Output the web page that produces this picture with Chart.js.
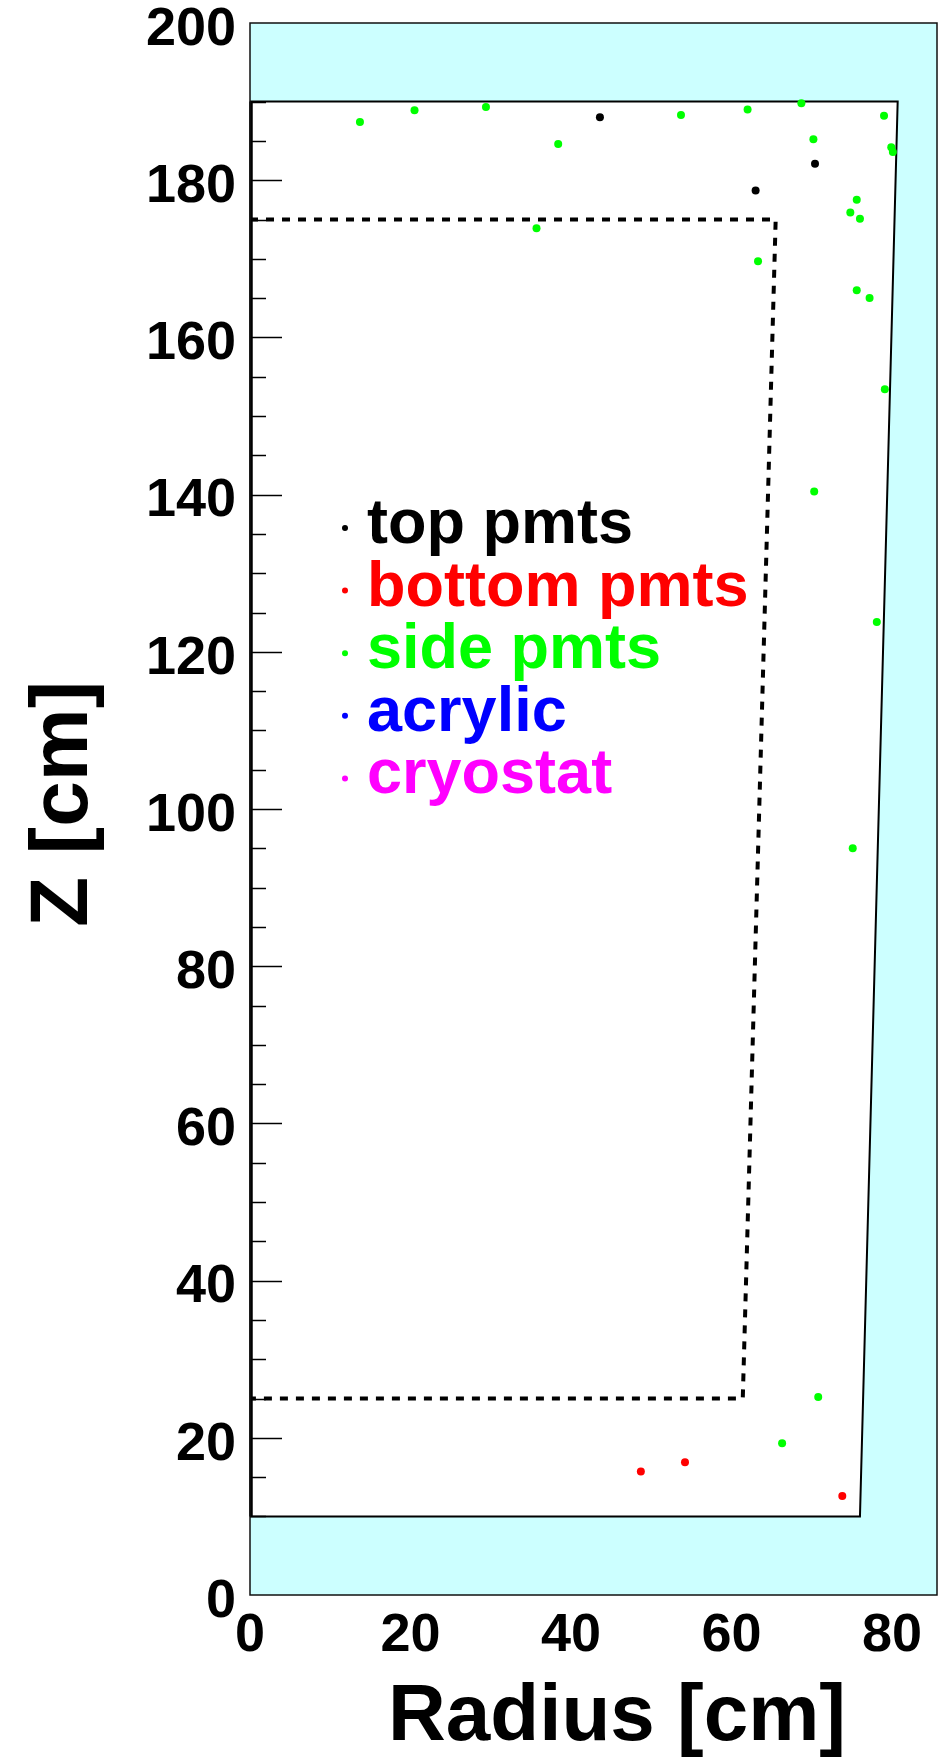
<!DOCTYPE html>
<html>
<head>
<meta charset="utf-8">
<script src="https://cdn.jsdelivr.net/npm/chart.js@4.4.1/dist/chart.umd.min.js"></script>
<style>
html,body{margin:0;padding:0;background:#fff;}
canvas{display:block;}
</style>
</head>
<body>
<canvas id="c" width="943" height="1762"></canvas>
<script>
// Hit positions of PMT / material events: radius and height, in cm
const topR = [43.6, 63.0, 70.4];
const topZ = [188.0, 178.7, 182.1];

const bottomR = [48.7, 54.2, 73.8];
const bottomZ = [15.7, 16.9, 12.6];

const sideR = [13.7, 20.5, 29.4, 38.4, 35.7, 53.7, 62.0, 68.7, 79.0, 70.2, 79.9, 80.1,
               75.6, 74.8, 76.0, 63.3, 75.6, 77.2, 79.1, 70.3, 78.1, 75.1, 70.8, 66.3];
const sideZ = [187.4, 188.9, 189.3, 184.6, 173.9, 188.3, 189.0, 189.8, 188.2, 185.2, 184.2, 183.6,
               177.5, 175.9, 175.1, 169.7, 166.0, 165.0, 153.4, 140.4, 123.8, 95.0, 25.2, 19.3];

const acrylicR = [];
const acrylicZ = [];

const cryostatR = [];
const cryostatZ = [];

// Liquid volume outline (white region) and fiducial boundary (dashed)
const vesselR = [0, 76.0, 80.7, 0, 0];
const vesselZ = [10, 10, 190, 190, 10];
const fiducialR = [0, 65.5, 61.4, 0];
const fiducialZ = [175, 175, 25, 25];

// Axis ranges and labelled ticks
const xRange = [0, 85.6];
const yRange = [0, 200];
const xTicks = [0, 20, 40, 60, 80];
const yTicks = [0, 20, 40, 60, 80, 100, 120, 140, 160, 180, 200];

const FONT = '"Liberation Sans", Arial, Helvetica, sans-serif';

const zip = (r, z) => r.map((v, i) => ({x: v, y: z[i]}));

const pointSet = (label, r, z, color) => ({
  label, data: zip(r, z), showLine: false,
  backgroundColor: color, borderColor: color, borderWidth: 0,
  pointRadius: 4, pointHoverRadius: 4, order: 0, isSeries: true
});

const lineSet = (label, r, z, width, dash) => ({
  label, data: zip(r, z), showLine: true, fill: false,
  borderColor: '#000', borderWidth: width, borderDash: dash,
  pointRadius: 0, tension: 0, order: 10, isSeries: false
});

const frame = {
  id: 'frame',
  beforeDatasetsDraw(chart) {
    const {ctx, chartArea: a, scales: {x, y}} = chart;
    ctx.save();
    ctx.fillStyle = '#ccffff';
    ctx.fillRect(a.left, a.top, a.right - a.left, a.bottom - a.top);
    ctx.beginPath();
    vesselR.forEach((r, i) => {
      const px = x.getPixelForValue(r), py = y.getPixelForValue(vesselZ[i]);
      if (i === 0) ctx.moveTo(px, py); else ctx.lineTo(px, py);
    });
    ctx.closePath();
    ctx.fillStyle = '#ffffff';
    ctx.fill();
    ctx.restore();
  },
  afterDatasetsDraw(chart) {
    const {ctx, chartArea: a, scales: {x, y}} = chart;
    ctx.save();
    // tick marks inside the liquid region
    ctx.strokeStyle = '#000';
    ctx.lineWidth = 1.5;
    const zLo = Math.min(...vesselZ), zHi = Math.max(...vesselZ);
    for (let v = zLo; v <= zHi; v += 5) {
      const py = Math.round(y.getPixelForValue(v)) + 0.5;
      const len = (v % 20 === 0) ? 32 : 16;
      ctx.beginPath();
      ctx.moveTo(a.left, py);
      ctx.lineTo(a.left + len, py);
      ctx.stroke();
    }
    // axis line along the liquid region
    ctx.lineWidth = 3.5;
    ctx.beginPath();
    ctx.moveTo(a.left + 1, y.getPixelForValue(zLo));
    ctx.lineTo(a.left + 1, y.getPixelForValue(zHi));
    ctx.stroke();
    // outer frame
    ctx.lineWidth = 1.5;
    ctx.strokeStyle = '#111';
    ctx.strokeRect(a.left, a.top, a.right - a.left, a.bottom - a.top);

    // legend
    const items = chart.data.datasets.filter(d => d.isSeries);
    ctx.font = 'bold 63px ' + FONT;
    ctx.textAlign = 'left';
    ctx.textBaseline = 'alphabetic';
    items.forEach((d, i) => {
      const my = a.top + 505 + i * 62.6;
      const mx = a.left + 95;
      ctx.fillStyle = d.backgroundColor;
      ctx.beginPath();
      ctx.arc(mx, my, 3, 0, Math.PI * 2);
      ctx.fill();
      ctx.fillText(d.label, mx + 22, my + 15);
    });

    // axis titles
    ctx.fillStyle = '#000';
    ctx.font = 'bold 80px ' + FONT;
    ctx.textAlign = 'center';
    ctx.fillText('Radius [cm]', 617, 1740);
    ctx.save();
    ctx.translate(87, 804);
    ctx.rotate(-Math.PI / 2);
    ctx.font = 'bold 82px ' + FONT;
    ctx.fillText('Z [cm]', 0, 0);
    ctx.restore();
    ctx.restore();
  }
};

new Chart(document.getElementById('c'), {
  type: 'scatter',
  data: {
    datasets: [
      lineSet('outline', vesselR, vesselZ, 2, []),
      lineSet('fiducial', fiducialR, fiducialZ, 4, [8, 8]),
      pointSet('top pmts', topR, topZ, '#000000'),
      pointSet('bottom pmts', bottomR, bottomZ, '#ff0000'),
      pointSet('side pmts', sideR, sideZ, '#00ff00'),
      pointSet('acrylic', acrylicR, acrylicZ, '#0000ff'),
      pointSet('cryostat', cryostatR, cryostatZ, '#ff00ff')
    ]
  },
  options: {
    responsive: false,
    animation: false,
    devicePixelRatio: 1,
    layout: {padding: {top: 23, right: 6, left: 0, bottom: 0}},
    plugins: {legend: {display: false}, tooltip: {enabled: false}},
    scales: {
      x: {
        type: 'linear', min: xRange[0], max: xRange[1],
        afterBuildTicks: s => { s.ticks = xTicks.map(v => ({value: v})); },
        afterFit: s => { s.height = 167; s.paddingLeft = 0; s.paddingRight = 0; },
        grid: {display: false, drawTicks: false},
        border: {display: false},
        ticks: {
          font: {family: FONT, size: 54, weight: 'bold', lineHeight: 1.2},
          color: '#000', padding: 9, maxRotation: 0, autoSkip: false
        }
      },
      y: {
        type: 'linear', min: yRange[0], max: yRange[1],
        afterBuildTicks: s => { s.ticks = yTicks.map(v => ({value: v})); },
        afterFit: s => { s.width = 250; s.paddingTop = 0; s.paddingBottom = 0; },
        grid: {display: false, drawTicks: false},
        border: {display: false},
        ticks: {
          font: {family: FONT, size: 54, weight: 'bold'},
          color: '#000', padding: 14, labelOffset: 7, autoSkip: false
        }
      }
    }
  },
  plugins: [frame]
});
</script>
</body>
</html>
